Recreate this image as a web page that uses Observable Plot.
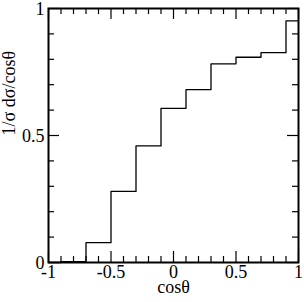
<!DOCTYPE html>
<html>
<head>
<meta charset="utf-8">
<script src="https://cdn.jsdelivr.net/npm/d3@7"></script>
<script src="https://cdn.jsdelivr.net/npm/@observablehq/plot@0.6"></script>
<style>
html,body{margin:0;padding:0;background:#fff;}
svg, svg text {font-family: "Liberation Serif", "Times New Roman", serif !important;}
</style>
</head>
<body>
<div id="chart"></div>
<script>
// bin lower edges and heights (last edge closes at 1)
const binEdges = [-1, -0.9, -0.7, -0.5, -0.3, -0.1, 0.1, 0.3, 0.5, 0.7, 0.9, 1];
const binValues = [0, 0.003, 0.078, 0.28, 0.459, 0.607, 0.681, 0.782, 0.808, 0.826, 0.951];
const xMajorTicks = [-1, -0.5, 0, 0.5, 1];
const xMinorTicks = [-0.9,-0.8,-0.7,-0.6,-0.4,-0.3,-0.2,-0.1,0.1,0.2,0.3,0.4,0.6,0.7,0.8,0.9];
const yMajorTicks = [0, 0.5, 1];
const yMinorTicks = [0.1,0.2,0.3,0.4,0.6,0.7,0.8,0.9];
const xLabel = "cosθ";
const yLabel = "1/σ dσ/cosθ";

const W = 304, H = 302;
const mL = 48, mR = 6, mT = 8, mB = 40;
const pw = W - mL - mR, ph = H - mT - mB;

const steps = binEdges.map((e, i) => ({x: e, y: binValues[Math.min(i, binValues.length - 1)]}));

const font = '"Liberation Serif", "Times New Roman", serif';
const major = 11, minor = 6;
const fs = 18;

const chart = Plot.plot({
  width: W, height: H,
  marginLeft: mL, marginRight: mR, marginTop: mT, marginBottom: mB,
  style: {fontFamily: font, fontSize: fs + "px", background: "white", color: "black"},
  x: {domain: [-1, 1]},
  y: {domain: [0, 1]},
  marks: [
    Plot.axisX(xMajorTicks, {tickSize: 0, tickPadding: 3, tickFormat: d => String(d), label: null, fontSize: fs, fontFamily: font}),
    Plot.axisY(yMajorTicks, {tickSize: 0, tickPadding: 4, dy: 1, tickFormat: d => String(d), label: null, fontSize: fs, fontFamily: font}),
    // inward ticks: bottom
    Plot.ruleX(xMajorTicks, {x: d => d, insetTop: ph - major, stroke: "black", strokeWidth: 1.2}),
    Plot.ruleX(xMinorTicks, {x: d => d, insetTop: ph - minor, stroke: "black", strokeWidth: 1.2}),
    // top
    Plot.ruleX(xMajorTicks, {x: d => d, insetBottom: ph - major, stroke: "black", strokeWidth: 1.2}),
    Plot.ruleX(xMinorTicks, {x: d => d, insetBottom: ph - minor, stroke: "black", strokeWidth: 1.2}),
    // left
    Plot.ruleY(yMajorTicks, {y: d => d, insetRight: pw - major, stroke: "black", strokeWidth: 1.2}),
    Plot.ruleY(yMinorTicks, {y: d => d, insetRight: pw - minor, stroke: "black", strokeWidth: 1.2}),
    // right
    Plot.ruleY(yMajorTicks, {y: d => d, insetLeft: pw - major, stroke: "black", strokeWidth: 1.2}),
    Plot.ruleY(yMinorTicks, {y: d => d, insetLeft: pw - minor, stroke: "black", strokeWidth: 1.2}),
    Plot.line(steps, {x: "x", y: "y", curve: "step-after", stroke: "black", strokeWidth: 1.3}),
    Plot.frame({stroke: "black", strokeWidth: 2}),
    Plot.text([xLabel], {text: d => d, frameAnchor: "bottom", dy: 30, fontSize: fs, fontFamily: font, fill: "black"}),
    Plot.text([yLabel], {text: d => d, frameAnchor: "left", dx: -39, rotate: -90, fontSize: fs, fontFamily: font, fill: "black"})
  ]
});
document.getElementById("chart").appendChild(chart);
</script>
</body>
</html>
